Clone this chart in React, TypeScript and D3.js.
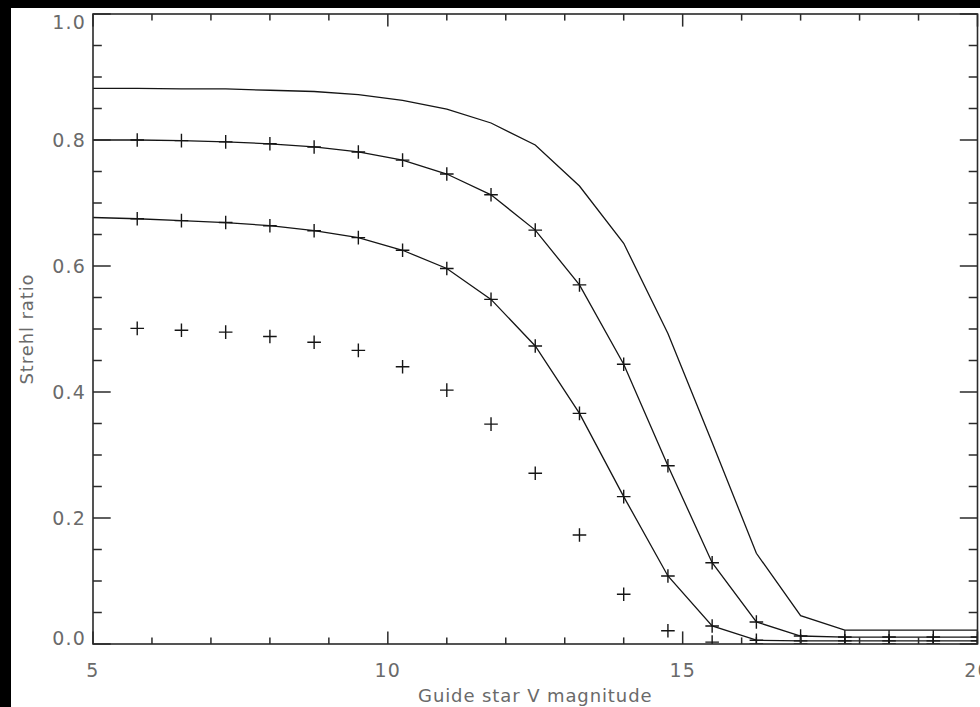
import React from "react";
import * as d3 from "d3";

// Guide star V magnitude sample points
const magnitudes = [5, 5.75, 6.5, 7.25, 8, 8.75, 9.5, 10.25, 11, 11.75, 12.5, 13.25, 14, 14.75, 15.5, 16.25, 17, 17.75, 18.5, 19.25, 20];

// Strehl ratio curves (solid lines, one value per magnitude)
const strehlUpper = [0.882, 0.882, 0.881, 0.881, 0.879, 0.877, 0.872, 0.863, 0.849, 0.827, 0.792, 0.727, 0.636, 0.493, 0.32, 0.144, 0.045, 0.022, 0.022, 0.022, 0.022];
const strehlMiddle = [0.8, 0.8, 0.799, 0.797, 0.794, 0.789, 0.781, 0.768, 0.746, 0.713, 0.657, 0.57, 0.444, 0.283, 0.129, 0.035, 0.0127, 0.011, 0.011, 0.011, 0.011];
const strehlLower = [0.677, 0.675, 0.672, 0.669, 0.664, 0.656, 0.645, 0.625, 0.596, 0.547, 0.473, 0.366, 0.234, 0.108, 0.0286, 0.006, 0.005, 0.005, 0.005, 0.005, 0.005];

// Symbol-only series, sampled from 5.75 onwards
const crossMagnitudes = [5.75, 6.5, 7.25, 8, 8.75, 9.5, 10.25, 11, 11.75, 12.5, 13.25, 14, 14.75, 15.5, 16.25, 17, 17.75, 18.5, 19.25, 20];
const strehlPoints = [0.501, 0.498, 0.495, 0.488, 0.479, 0.466, 0.44, 0.403, 0.349, 0.271, 0.173, 0.079, 0.021, 0.003, 0, 0, 0, 0, 0, 0];

// Axis ticks
const xMajorTicks = [5, 10, 15, 20];
const xMinorTicks = [6, 7, 8, 9, 11, 12, 13, 14, 16, 17, 18, 19];
const yMajorTicks = [0, 0.2, 0.4, 0.6, 0.8, 1.0];
const yMinorTicks = [0.05, 0.1, 0.15, 0.25, 0.3, 0.35, 0.45, 0.5, 0.55, 0.65, 0.7, 0.75, 0.85, 0.9, 0.95];

const W = 980;
const H = 707;
const plot = { left: 93, right: 977.5, top: 14, bottom: 644 };

const AXIS = "#2a2a2a";
const INK = "#151515";
const TEXT = "#6a6a6a";
const FONT = "'DejaVu Sans', sans-serif";

export default function App() {
  const x = d3.scaleLinear().domain([5, 20]).range([plot.left, plot.right]);
  const y = d3.scaleLinear().domain([0, 1]).range([plot.bottom, plot.top]);

  const line = d3
    .line<number>()
    .x((_, i) => x(magnitudes[i]))
    .y((d) => y(d));

  const xMajorLen = 12.6;
  const xMinorLen = 6.6;
  const yMajorLen = 17.7;
  const yMinorLen = 8.8;
  const arm = 6.8;

  // keep the end labels of the y axis inside the frame height
  const yLabelCenter = (t: number) =>
    Math.min(Math.max(y(t), plot.top + 8), plot.bottom - 6);

  const cross = (cx: number, cy: number, key: string) => (
    <path
      key={key}
      d={`M${cx - arm},${cy}H${cx + arm}M${cx},${cy - arm}V${cy + arm}`}
      stroke={INK}
      strokeWidth={1.4}
      fill="none"
    />
  );

  const crossSeries = [
    { name: "middle", values: strehlMiddle.slice(1) },
    { name: "lower", values: strehlLower.slice(1) },
    { name: "points", values: strehlPoints },
  ];

  return (
    <svg
      width={W}
      height={H}
      style={{ position: "absolute", left: 0, top: 0, display: "block" }}
    >
      <defs>
        <clipPath id="plot-clip">
          <rect
            x={plot.left}
            y={plot.top}
            width={plot.right - plot.left}
            height={plot.bottom - plot.top}
          />
        </clipPath>
      </defs>
      <rect x={0} y={0} width={W} height={H} fill="#000" />
      <rect x={11} y={8} width={W - 11} height={H - 8} fill="#fff" />

      {/* curves */}
      <g clipPath="url(#plot-clip)" fill="none" stroke={INK} strokeWidth={1.3}>
        <path d={line(strehlUpper) ?? ""} />
        <path d={line(strehlMiddle) ?? ""} />
        <path d={line(strehlLower) ?? ""} />
      </g>

      {/* plus symbols */}
      <g clipPath="url(#plot-clip)">
        {crossSeries.map((s) =>
          s.values.map((v, i) => cross(x(crossMagnitudes[i]), y(v), `${s.name}-${i}`))
        )}
      </g>

      {/* frame */}
      <rect
        x={plot.left}
        y={plot.top}
        width={plot.right - plot.left}
        height={plot.bottom - plot.top}
        fill="none"
        stroke={AXIS}
        strokeWidth={1.6}
      />

      {/* x ticks, bottom and top; y ticks, left and right */}
      <g stroke={AXIS} strokeWidth={1.5}>
        {xMajorTicks.map((t) => (
          <g key={`xM${t}`}>
            <line x1={x(t)} x2={x(t)} y1={plot.bottom} y2={plot.bottom - xMajorLen} />
            <line x1={x(t)} x2={x(t)} y1={plot.top} y2={plot.top + xMajorLen} />
          </g>
        ))}
        {xMinorTicks.map((t) => (
          <g key={`xm${t}`}>
            <line x1={x(t)} x2={x(t)} y1={plot.bottom} y2={plot.bottom - xMinorLen} />
            <line x1={x(t)} x2={x(t)} y1={plot.top} y2={plot.top + xMinorLen} />
          </g>
        ))}
        {yMajorTicks.map((t) => (
          <g key={`yM${t}`}>
            <line x1={plot.left} x2={plot.left + yMajorLen} y1={y(t)} y2={y(t)} />
            <line x1={plot.right} x2={plot.right - yMajorLen} y1={y(t)} y2={y(t)} />
          </g>
        ))}
        {yMinorTicks.map((t) => (
          <g key={`ym${t}`}>
            <line x1={plot.left} x2={plot.left + yMinorLen} y1={y(t)} y2={y(t)} />
            <line x1={plot.right} x2={plot.right - yMinorLen} y1={y(t)} y2={y(t)} />
          </g>
        ))}
      </g>

      {/* tick labels */}
      <g fill={TEXT} fontFamily={FONT} fontSize={19} letterSpacing={1.2}>
        {xMajorTicks.map((t) => (
          <text key={`xl${t}`} x={x(t)} y={677} textAnchor="middle">
            {d3.format("d")(t)}
          </text>
        ))}
        {yMajorTicks.map((t) => (
          <text key={`yl${t}`} x={86} y={yLabelCenter(t) + 7} textAnchor="end">
            {d3.format(".1f")(t)}
          </text>
        ))}
      </g>

      {/* axis titles */}
      <g fill={TEXT} fontFamily={FONT} fontSize={18} letterSpacing={0.9}>
        <text x={(plot.left + plot.right) / 2} y={702} textAnchor="middle">
          Guide star V magnitude
        </text>
        <text
          transform={`translate(33,${(plot.top + plot.bottom) / 2}) rotate(-90)`}
          textAnchor="middle"
        >
          Strehl ratio
        </text>
      </g>
    </svg>
  );
}
